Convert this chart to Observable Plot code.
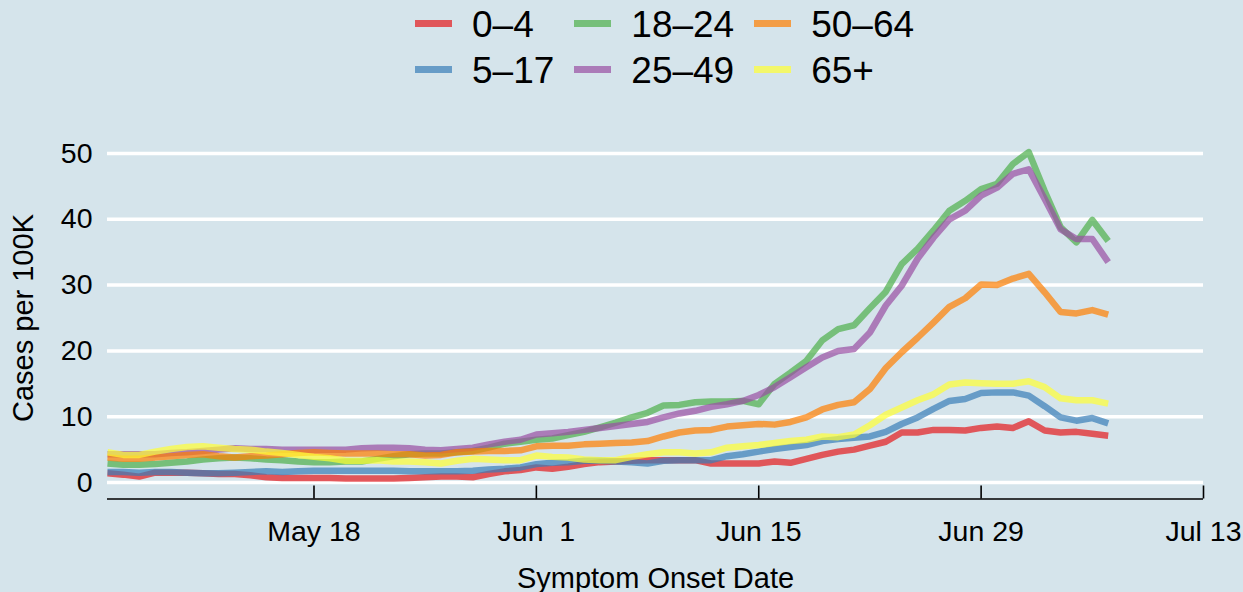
<!DOCTYPE html>
<html>
<head>
<meta charset="utf-8">
<script src="https://cdn.jsdelivr.net/npm/d3@7"></script>
<script src="https://cdn.jsdelivr.net/npm/@observablehq/plot@0.6"></script>
<style>
html, body { margin: 0; padding: 0; background: #d5e4eb; }
body { width: 1243px; height: 592px; overflow: hidden; font-family: "Liberation Sans", Arial, sans-serif; }
#legend { height: 100px; position: relative; }
#legend .grid { position: absolute; left: 415px; top: 0; display: grid; grid-auto-flow: column; grid-template-rows: 46px 46px; column-gap: 20px; }
#legend .item { display: flex; align-items: center; font-size: 37px; color: #000; }
#legend .sw { width: 37px; height: 7px; margin-right: 20px; opacity: 0.7; }
#legend .lab { position: relative; top: 2px; }
#chart svg { display: block; }
</style>
</head>
<body>
<div id="legend"><div class="grid"></div></div>
<div id="chart"></div>
<script>
// ---- data ----
const groups = ["0–4", "5–17", "18–24", "25–49", "50–64", "65+"];
const colors = ["#E41A1C", "#377EB8", "#4DAF4A", "#984EA3", "#FF7F00", "#FFFF33"];
const startDate = "2020-05-05"; // daily values from May 5 to Jul 7
const age0_4 = [1.4,1.2,0.9,1.5,1.5,1.5,1.4,1.3,1.3,1.1,0.8,0.7,0.7,0.7,0.7,0.6,0.6,0.6,0.6,0.7,0.8,0.9,0.9,0.8,1.3,1.7,1.9,2.3,2.1,2.4,2.8,3.1,3.2,3.3,
  3.4,3.4,3.4,3.4,2.9,2.9,2.9,2.9,3.2,3.0,3.6,4.2,4.7,5.0,5.6,6.2,7.6,7.6,8.0,8.0,7.9,8.3,8.5,8.3,9.3,7.9,7.6,7.7,7.4,7.1];
const age5_17 = [1.6,1.6,1.5,1.6,1.6,1.5,1.4,1.4,1.5,1.6,1.7,1.6,1.7,1.8,1.8,1.8,1.8,1.8,1.8,1.7,1.7,1.7,1.7,1.8,2.0,2.1,2.3,2.8,3.0,3.1,3.3,3.3,3.2,3.1,
  2.9,3.3,3.4,3.4,3.4,4.0,4.3,4.7,5.1,5.4,5.7,6.3,6.6,6.8,7.0,7.7,8.9,9.9,11.2,12.4,12.7,13.6,13.7,13.7,13.2,11.6,9.9,9.4,9.8,9.0];
const age18_24 = [2.9,2.7,2.7,2.8,3.0,3.2,3.5,3.7,3.8,3.7,3.5,3.4,3.2,3.1,3.1,3.2,3.2,3.6,4.0,4.3,4.4,4.4,4.6,4.8,5.3,5.9,6.2,6.5,6.7,7.2,7.7,8.4,9.1,9.9,
  10.6,11.7,11.8,12.2,12.3,12.3,12.4,11.9,15.0,16.7,18.5,21.6,23.3,23.9,26.5,29.0,33.2,35.5,38.3,41.3,42.8,44.6,45.4,48.4,50.2,44.3,38.8,36.5,39.9,36.7];
const age25_49 = [4.3,4.3,4.3,4.3,4.5,4.6,4.8,5.0,5.2,5.1,5.1,5.0,5.0,5.0,5.0,5.0,5.2,5.3,5.3,5.2,5.0,4.9,5.1,5.3,5.8,6.2,6.5,7.3,7.5,7.7,8.0,8.3,8.6,8.9,
  9.2,9.9,10.5,10.9,11.5,11.9,12.4,13.3,14.5,16.0,17.5,19.0,20.0,20.3,22.8,26.9,29.9,34.0,37.2,40.0,41.3,43.6,44.8,46.9,47.6,43.1,38.5,37.0,37.0,33.5];
const age50_64 = [3.8,3.6,3.6,3.8,4.0,4.2,4.3,4.0,3.8,4.0,4.1,4.3,4.5,4.6,4.5,4.4,4.4,4.4,4.3,4.3,4.1,4.2,4.6,4.7,4.8,4.8,4.9,5.5,5.6,5.6,5.8,5.9,6.0,6.1,
  6.3,7.0,7.6,7.9,8.0,8.5,8.7,8.9,8.8,9.2,9.9,11.1,11.8,12.2,14.2,17.4,19.8,22.0,24.3,26.7,28.0,30.1,30.0,31.0,31.7,28.9,25.9,25.7,26.2,25.5];
const age65 = [4.6,4.2,4.2,4.7,5.1,5.4,5.5,5.3,5.1,5.0,4.7,4.5,4.2,3.9,3.7,3.3,3.3,3.4,3.2,3.2,3.1,2.9,3.3,3.6,3.5,3.4,3.4,4.1,3.9,3.8,3.5,3.4,3.4,3.9,
  4.3,4.6,4.6,4.4,4.6,5.3,5.5,5.7,6.0,6.3,6.5,7.0,6.9,7.3,8.7,10.3,11.4,12.5,13.4,14.9,15.2,15.1,15.0,15.0,15.4,14.5,12.8,12.5,12.5,12.0];
const tickDates = ["2020-05-18", "2020-06-01", "2020-06-15", "2020-06-29", "2020-07-13"];
const tickLabels = ["May 18", "Jun\u00a0 1", "Jun 15", "Jun 29", "Jul 13"];
const yTicks = [0, 10, 20, 30, 40, 50];
const yDomain = [-2.5, 52.5];

// ---- build table ----
const series = [age0_4, age5_17, age18_24, age25_49, age50_64, age65];
const start = new Date(startDate);
const rows = [];
series.forEach((vals, gi) => {
  vals.forEach((v, i) => rows.push({group: groups[gi], date: d3.utcDay.offset(start, i), value: v}));
});
const tickDateObjs = tickDates.map(d => new Date(d));
const fmt = d => tickLabels[tickDateObjs.findIndex(t => +t === +d)] ?? "";

// ---- legend ----
const grid = document.querySelector("#legend .grid");
groups.forEach((g, i) => {
  const it = document.createElement("div");
  it.className = "item";
  const sw = document.createElement("span");
  sw.className = "sw";
  sw.style.background = colors[i];
  const lab = document.createElement("span");
  lab.className = "lab";
  lab.textContent = g;
  it.append(sw, lab);
  grid.append(it);
});

// ---- chart ----
const chart = Plot.plot({
  width: 1243,
  height: 492,
  marginLeft: 107,
  marginRight: 40,
  marginTop: 36.5,
  marginBottom: 93.5,
  style: {background: "transparent", fontFamily: "'Liberation Sans', Arial, sans-serif", color: "#000", overflow: "visible"},
  x: {type: "utc", domain: [start, tickDateObjs[tickDateObjs.length - 1]]},
  y: {domain: yDomain},
  color: {domain: groups, range: colors},
  marks: [
    Plot.ruleY(yTicks, {stroke: "white", strokeWidth: 3.5}),
    Plot.lineY(rows, {x: "date", y: "value", z: "group", stroke: "group", strokeWidth: 6.5, strokeOpacity: 0.7, strokeLinejoin: "round", strokeLinecap: "butt"}),
    Plot.ruleY([yDomain[0]], {stroke: "black", strokeWidth: 1.6}),
    Plot.axisX({ticks: tickDateObjs, tickSize: 13, dy: -13, tickFormat: () => "", strokeWidth: 1.6, label: null}),
    Plot.axisX({ticks: tickDateObjs, tickSize: 0, tickPadding: 21.5, tickFormat: fmt, fontSize: 28.5, label: null}),
    Plot.axisY({ticks: yTicks, tickSize: 0, tickPadding: 15, fontSize: 28.5, label: null}),
    Plot.text(["Symptom Onset Date"], {frameAnchor: "bottom", dy: 88.5, fontSize: 29}),
    Plot.text(["Cases per 100K"], {frameAnchor: "left", textAnchor: "middle", dx: -83.3, rotate: -90, fontSize: 29})
  ]
});
document.getElementById("chart").append(chart);
</script>
</body>
</html>
